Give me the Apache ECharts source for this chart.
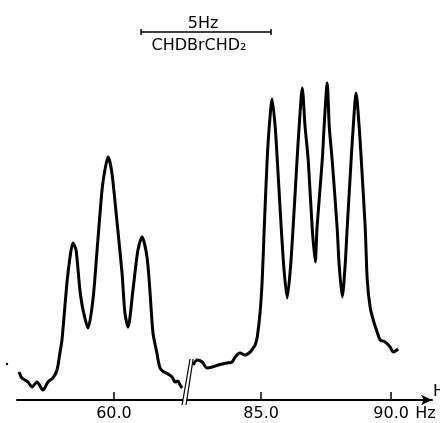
<!DOCTYPE html>
<html>
<head>
<meta charset="utf-8">
<script src="https://cdn.jsdelivr.net/npm/echarts@6/dist/echarts.min.js"></script>
<style>html,body{margin:0;padding:0;background:#fff}#c{width:440px;height:423px}</style>
</head>
<body>
<div id="c"></div>
<script>
// Left multiplet (Hz, intensity)
const leftHz  = [56.35,56.46,56.69,56.85,57.04,57.27,57.46,57.65,57.81,57.92,58.00,58.19,58.31,58.42,58.54,58.69,58.81,59.00,59.19,59.35,59.54,59.65,59.77,59.92,60.12,60.31,60.42,60.54,60.73,60.92,61.08,61.27,61.38,61.50,61.65,61.77,61.92,62.08,62.23,62.35,62.46,62.54,62.62];
const leftInt = [28,22,18,13,18,10,18,22,30,47,60,117,143,157,150,110,90,72,100,150,210,230,243,227,177,127,87,73,110,150,163,143,110,67,47,32,28,26,23,18,19,15,12];
// Right multiplet (Hz, intensity)
const rightHz  = [82.38,82.54,82.73,82.92,83.12,83.35,83.50,83.69,83.88,84.00,84.19,84.38,84.58,84.69,84.77,84.85,84.96,85.04,85.12,85.23,85.31,85.42,85.54,85.62,85.77,85.88,86.00,86.12,86.23,86.38,86.46,86.58,86.69,86.81,86.96,87.08,87.15,87.35,87.42,87.54,87.62,87.73,87.92,88.00,88.12,88.23,88.31,88.46,88.54,88.65,88.77,88.85,89.00,89.08,89.19,89.31,89.46,89.58,89.77,89.96,90.08,90.27];
const rightInt = [35,40,38,32,33,35,36,37,38,43,47,45,48,52,55,63,88,120,173,240,273,301,273,240,173,130,102,130,173,240,273,312,273,240,173,138,173,240,273,317,273,240,173,135,103,135,173,240,273,307,273,240,173,120,93,80,68,60,58,53,48,51];
// Axis ticks
const tickHz = [60, 85, 90];
const tickLabels = ['60.0', '85.0', '90.0'];
const axisUnit = 'Hz';
const scaleBarHz = 5;
const scaleLabel = '5Hz';
const compoundLabel = 'CHDBrCHD\u2082';

// axis break (left segment ends / right segment starts)
const breakLeft = 62.83, breakRight = 82.17;
const offset = breakRight - breakLeft;
const toV = hz => hz > 70 ? hz - offset : hz;

const FONT = 'DejaVu Sans';
const chart = echarts.init(document.getElementById('c'), null, {renderer: 'canvas'});
const tickV = tickHz.map(toV);

chart.setOption({
  animation: false,
  backgroundColor: '#fff',
  grid: {left: 17, right: 8, top: 0, bottom: 23, outerBoundsMode: 'none', containLabel: false},
  xAxis: {
    type: 'value', min: 56.27, max: 72.23,
    axisLine: {show: true, lineStyle: {color: '#000', width: 2}, symbol: ['none', 'arrow'], symbolSize: [8, 11]},
    axisTick: {show: true, inside: true, length: 8, customValues: tickV, lineStyle: {color: '#000', width: 1.5}},
    axisLabel: {show: true, customValues: tickV, margin: 6, color: '#000', fontFamily: FONT, fontSize: 16,
      formatter: v => { let bi = 0; tickV.forEach((t, i) => { if (Math.abs(t - v) < Math.abs(tickV[bi] - v)) bi = i; }); return tickLabels[bi]; }},
    splitLine: {show: false}
  },
  yAxis: {type: 'value', min: 0, max: 400, show: false},
  series: [
    {type: 'line', data: leftHz.map((h, i) => [toV(h), leftInt[i]]), showSymbol: false, smooth: 0.25,
     lineStyle: {color: '#000', width: 3}},
    {type: 'line', data: rightHz.map((h, i) => [toV(h), rightInt[i]]), showSymbol: false, smooth: 0.25,
     lineStyle: {color: '#000', width: 3}}
  ]
});

const bx = chart.convertToPixel({xAxisIndex: 0}, breakLeft);
const ay = chart.convertToPixel({yAxisIndex: 0}, 0);
const x90 = chart.convertToPixel({xAxisIndex: 0}, toV(90));
const sb1 = chart.convertToPixel({xAxisIndex: 0}, 61.04);
const sb2 = chart.convertToPixel({xAxisIndex: 0}, 61.04 + scaleBarHz);
const barY = 32;

chart.setOption({
  graphic: [
    {type: 'polygon', z: 100, shape: {points: [[bx - 5.5, ay + 5], [bx - 1.5, ay + 5], [bx + 5.5, ay - 41], [bx + 2.5, ay - 41]]}, style: {fill: '#fff'}},
    {type: 'line', z: 101, shape: {x1: bx - 5.5, y1: ay + 5, x2: bx + 2.5, y2: ay - 41}, style: {stroke: '#000', lineWidth: 1.2}},
    {type: 'line', z: 101, shape: {x1: bx - 1.5, y1: ay + 5, x2: bx + 5.5, y2: ay - 41}, style: {stroke: '#000', lineWidth: 1.2}},
    {type: 'line', z: 101, shape: {x1: sb1, y1: barY, x2: sb2, y2: barY}, style: {stroke: '#000', lineWidth: 1.5}},
    {type: 'line', z: 101, shape: {x1: sb1, y1: barY - 3, x2: sb1, y2: barY + 3}, style: {stroke: '#000', lineWidth: 1.5}},
    {type: 'line', z: 101, shape: {x1: sb2, y1: barY - 3, x2: sb2, y2: barY + 3}, style: {stroke: '#000', lineWidth: 1.5}},
    {type: 'text', z: 101, x: 203, y: 23.5, style: {text: scaleLabel, fill: '#000', font: '16px "' + FONT + '"', textAlign: 'center', textVerticalAlign: 'middle'}},
    {type: 'text', z: 101, x: 199, y: 46, style: {text: compoundLabel, fill: '#000', font: '16px "' + FONT + '"', textAlign: 'center', textVerticalAlign: 'middle'}},
    {type: 'text', z: 101, x: x90 + 24, y: 414, style: {text: axisUnit, fill: '#000', font: '16px "' + FONT + '"', textAlign: 'left', textVerticalAlign: 'middle'}},
    {type: 'text', z: 101, x: 433, y: 392, style: {text: axisUnit, fill: '#000', font: '16px "' + FONT + '"', textAlign: 'left', textVerticalAlign: 'middle'}},
    {type: 'circle', z: 101, shape: {cx: 7, cy: 364, r: 1.2}, style: {fill: '#000'}}
  ]
});
</script>
</body>
</html>
